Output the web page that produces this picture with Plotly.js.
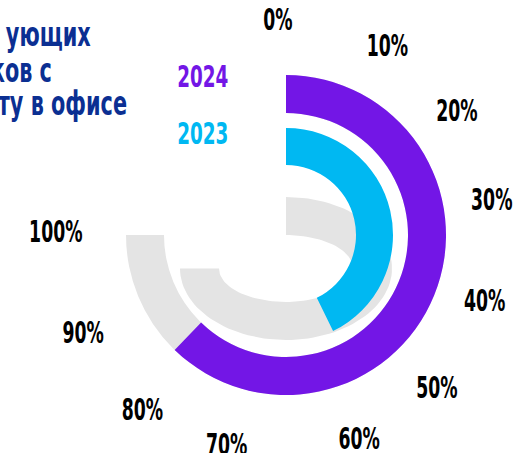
<!DOCTYPE html>
<html>
<head>
<meta charset="utf-8">
<script src="https://cdn.plot.ly/plotly-3.0.1.min.js"></script>
<style>html,body{margin:0;padding:0;background:#fff;}#chart{width:526px;height:453px;}</style>
</head>
<body>
<div id="chart"></div>
<script>
// ---- data ----
const years = ['2024', '2023'];
const shares = [83, 57];            // % of respondents
const trackMax = 100;               // full scale, %
const tickPct = [0, 10, 20, 30, 40, 50, 60, 70, 80, 90, 100];
const tickLabels = ['0%', '10%', '20%', '30%', '40%', '50%', '60%', '70%', '80%', '90%', '100%'];
const titleLines = ['ующих', 'ков с', 'ту в офисе'];

// ---- styling ----
const colors = ['#7316E6', '#00B8F2'];
const grey = '#E4E4E4';
const FONT = 'DejaVu Sans Condensed, DejaVu Sans, sans-serif';
const TICK_SQUEEZE = 0.64, LEG_SQUEEZE = 0.66, TITLE_SQUEEZE = 0.68;
const DEG_PER_PCT = 270 / 100;      // scale: 100% spans three quarters of the circle
const W = 526, H = 453;
const RMAX = 185;                   // radial axis range of the rings (px units)
const CX = 286, CY = 235;           // ring centre in page px
const LRAD = 195, LCX = 278, LCY = 231;  // label ring (scale labels sit on a slightly offset circle)

const ringBase = [122, 70];
const ringWidth = [38, 37];

const traces = [];

// inner grey track (drawn as a tilted ellipse band, behind the polar rings)
(function () {
  const ecx = 286, ecy = 268.5;
  const oa = 106, ob = 71.5, ia = 67, ib = 33.5;
  const end = trackMax * DEG_PER_PCT;
  const n = 90;
  const xs = [], ys = [];
  for (let i = 0; i <= n; i++) {
    const t = (end * i / n) * Math.PI / 180;
    xs.push(ecx + oa * Math.sin(t)); ys.push(ecy - ob * Math.cos(t));
  }
  for (let i = n; i >= 0; i--) {
    const t = (end * i / n) * Math.PI / 180;
    xs.push(ecx + ia * Math.sin(t)); ys.push(ecy - ib * Math.cos(t));
  }
  traces.push({type: 'scatter', x: xs, y: ys, mode: 'lines', fill: 'toself',
    fillcolor: grey, line: {width: 0, color: grey}, hoverinfo: 'skip', showlegend: false,
    xaxis: 'x', yaxis: 'y'});
})();

// outer grey track
traces.push({type: 'barpolar', subplot: 'polar',
  theta: [trackMax * DEG_PER_PCT / 2], width: [trackMax * DEG_PER_PCT],
  r: [ringWidth[0]], base: [ringBase[0]],
  marker: {color: grey, line: {width: 0}}, hoverinfo: 'skip', showlegend: false});

// data rings
years.forEach((y, i) => {
  traces.push({type: 'barpolar', subplot: 'polar', name: y,
    theta: [shares[i] * DEG_PER_PCT / 2], width: [shares[i] * DEG_PER_PCT],
    r: [ringWidth[i]], base: [ringBase[i]],
    marker: {color: colors[i], line: {width: 0}}, hoverinfo: 'skip', showlegend: false});
});

// empty trace that only carries the scale labels' subplot
traces.push({type: 'barpolar', subplot: 'polar2', r: [0], theta: [0],
  marker: {color: 'rgba(0,0,0,0)'}, hoverinfo: 'skip', showlegend: false});

const annotations = [];
const titleRight = [93, 54, 129];
const titleY = [34, 70, 103];
titleLines.forEach((t, i) => {
  annotations.push({xref: 'x', yref: 'y', x: titleRight[i], y: titleY[i], xanchor: 'right', yanchor: 'middle', align: 'right',
    text: t, showarrow: false, font: {family: FONT, size: 34, color: '#0B2F92', weight: 700}});
});
const legY = [76, 133];
years.forEach((y, i) => {
  annotations.push({xref: 'x', yref: 'y', x: 203, y: legY[i], xanchor: 'center', yanchor: 'middle',
    text: y, showarrow: false, font: {family: FONT, size: 31, color: colors[i], weight: 700}});
});

const angCommon = {rotation: 90, direction: 'clockwise', thetaunit: 'degrees',
  tickvals: tickPct.map(p => p * DEG_PER_PCT), ticktext: tickLabels,
  showgrid: false, showline: false, ticks: ''};

const layout = {
  width: W, height: H,
  margin: {l: 0, r: 0, t: 0, b: 0},
  paper_bgcolor: '#fff', plot_bgcolor: 'rgba(0,0,0,0)',
  showlegend: false,
  xaxis: {range: [0, W], domain: [0, 1], visible: false, fixedrange: true},
  yaxis: {range: [H, 0], domain: [0, 1], visible: false, fixedrange: true},
  polar: {
    domain: {x: [(CX - RMAX) / W, (CX + RMAX) / W], y: [(H - CY - RMAX) / H, (H - CY + RMAX) / H]},
    bgcolor: 'rgba(0,0,0,0)',
    radialaxis: {range: [0, RMAX], visible: false},
    angularaxis: Object.assign({}, angCommon, {showticklabels: false})
  },
  polar2: {
    domain: {x: [(LCX - LRAD) / W, (LCX + LRAD) / W], y: [(H - LCY - LRAD) / H, (H - LCY + LRAD) / H]},
    bgcolor: 'rgba(0,0,0,0)',
    radialaxis: {range: [0, LRAD], visible: false},
    angularaxis: Object.assign({}, angCommon, {tickfont: {family: FONT, size: 30, color: '#000', weight: 700}})
  },
  annotations: annotations
};

function squeeze(el, f) {
  const L = el.getComputedTextLength();
  if (!L) return;
  el.setAttribute('textLength', (L * f).toFixed(1));
  el.setAttribute('lengthAdjust', 'spacingAndGlyphs');
}

Plotly.newPlot('chart', traces, layout, {staticPlot: true, displayModeBar: false}).then(gd => {
  gd.querySelectorAll('.polarlayer text').forEach(el => squeeze(el, TICK_SQUEEZE));
  gd.querySelectorAll('.annotation-text').forEach(el => {
    const isTitle = titleLines.includes(el.textContent);
    squeeze(el, isTitle ? TITLE_SQUEEZE : LEG_SQUEEZE);
  });
});
</script>
</body>
</html>
